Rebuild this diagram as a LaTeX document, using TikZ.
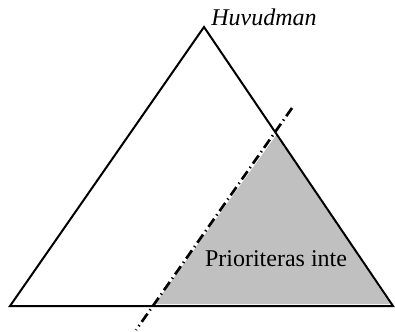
\documentclass[tikz,border=0pt]{standalone}
\usepackage{fontspec}
\setmainfont{Liberation Serif}
\definecolor{grisZona}{HTML}{C0C0C0}
\tikzset{
  lado/.style={line width=1.5pt},
  corte/.style={line width=2pt,dash pattern=on 7.5pt off 3pt on 1pt off 3pt},
  rotulo/.style={inner sep=0pt,font=\fontsize{18}{21}\selectfont},
}
\begin{document}
\begin{tikzpicture}[x=0.75pt,y=-0.75pt]
      \useasboundingbox (0,0) rectangle (395,331);
      \coordinate (cima) at (204,27);
      \coordinate (izq) at (10,306);
      \coordinate (der) at (393,306);
      \coordinate (corteArr) at (292,108);
      \coordinate (corteAbj) at (136,330);
      \fill[grisZona] (277,134) -- (155,304) -- (390,304) -- cycle;   % zona gris
      \draw[lado] (izq) -- (cima) -- (der) -- cycle;                  % triangulo
      \draw[corte] (corteArr) -- (corteAbj);                          % linea de corte
      \node[rotulo,anchor=base west] (jefe) at (211,26) {\itshape Huvudman};
      \node[rotulo,anchor=base] (prio) at (276,266) {Prioriteras inte};
    \end{tikzpicture}
\end{document}
